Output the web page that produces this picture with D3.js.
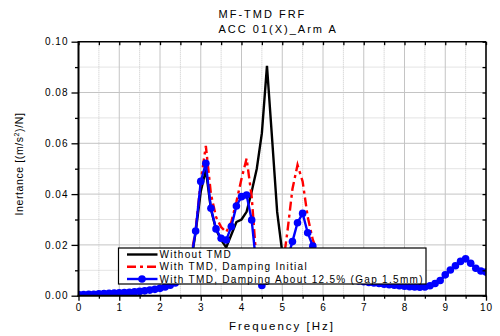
<!DOCTYPE html>
<html><head><meta charset="utf-8">
<script src="https://cdn.jsdelivr.net/npm/d3@7"></script>
<style>
body{margin:0;background:#fff;}
text{font-family:"Liberation Sans",Arial,sans-serif;}
</style></head>
<body><svg id="c" width="500" height="336"></svg>
<script>
const freq = [0,0.125,0.25,0.375,0.5,0.625,0.75,0.875,1,1.125,1.25,1.375,1.5,1.625,1.75,1.875,2,2.125,2.25,2.375,2.5,2.625,2.75,2.875,3,3.125,3.25,3.375,3.5,3.625,3.75,3.875,4,4.125,4.25,4.375,4.5,4.625,4.75,4.875,5,5.125,5.25,5.375,5.5,5.625,5.75,5.875,6,6.125,6.25,6.375,6.5,6.625,6.75,6.875,7,7.125,7.25,7.375,7.5,7.625,7.75,7.875,8,8.125,8.25,8.375,8.5,8.625,8.75,8.875,9,9.125,9.25,9.375,9.5,9.625,9.75,9.875,10];
const withoutTMD = [0.0005,0.0005,0.0006,0.0006,0.0007,0.0008,0.0009,0.0010,0.0011,0.0012,0.0013,0.0015,0.0017,0.0019,0.0022,0.0025,0.0029,0.0034,0.0041,0.0050,0.0062,0.0080,0.0120,0.0250,0.0410,0.0495,0.0340,0.0260,0.0220,0.0190,0.0240,0.0290,0.0300,0.0330,0.0410,0.0500,0.0640,0.0905,0.0620,0.0330,0.0170,0.0100,0.0080,0.0070,0.0065,0.0062,0.0060,0.0058,0.0056,0.0100,0.0090,0.0082,0.0075,0.0068,0.0062,0.0058,0.0055,0.0052,0.0050,0.0048,0.0045,0.0043,0.0041,0.0039,0.0037,0.0035,0.0034,0.0033,0.0034,0.0039,0.0048,0.0060,0.0082,0.0101,0.0118,0.0135,0.0145,0.0128,0.0108,0.0097,0.0093];
const dampInitial = [0.0005,0.0005,0.0006,0.0006,0.0007,0.0008,0.0009,0.0010,0.0011,0.0012,0.0013,0.0015,0.0017,0.0019,0.0022,0.0025,0.0029,0.0034,0.0041,0.0050,0.0062,0.0090,0.0140,0.0260,0.0450,0.0590,0.0400,0.0310,0.0270,0.0250,0.0290,0.0370,0.0460,0.0540,0.0390,0.0120,0.0050,0.0050,0.0060,0.0080,0.0100,0.0250,0.0420,0.0515,0.0450,0.0310,0.0220,0.0170,0.0130,0.0100,0.0090,0.0082,0.0075,0.0068,0.0062,0.0058,0.0055,0.0052,0.0050,0.0048,0.0045,0.0043,0.0041,0.0039,0.0037,0.0035,0.0034,0.0033,0.0034,0.0039,0.0048,0.0060,0.0082,0.0101,0.0118,0.0135,0.0145,0.0128,0.0108,0.0097,0.0093];
const dampAbout = [0.0005,0.0005,0.0006,0.0006,0.0007,0.0008,0.0009,0.0010,0.0011,0.0012,0.0013,0.0015,0.0017,0.0019,0.0022,0.0025,0.0029,0.0034,0.0041,0.0050,0.0062,0.0085,0.0130,0.0255,0.0450,0.0521,0.0344,0.0263,0.0226,0.0219,0.0272,0.0353,0.0390,0.0396,0.0298,0.0100,0.0040,0.0060,0.0080,0.0090,0.0100,0.0145,0.0213,0.0287,0.0324,0.0248,0.0195,0.0150,0.0120,0.0100,0.0090,0.0082,0.0075,0.0068,0.0062,0.0058,0.0055,0.0052,0.0050,0.0048,0.0045,0.0043,0.0041,0.0039,0.0037,0.0035,0.0034,0.0033,0.0034,0.0039,0.0048,0.0060,0.0082,0.0101,0.0118,0.0135,0.0145,0.0128,0.0108,0.0097,0.0093];
const xTicks = [0,1,2,3,4,5,6,7,8,9,10];
const xMinor = [0.5,1.5,2.5,3.5,4.5,5.5,6.5,7.5,8.5,9.5];
const yTicks = [0,0.02,0.04,0.06,0.08,0.10];
const yMinor = [0.01,0.03,0.05,0.07,0.09];
const titleLines = ["MF-TMD FRF","ACC 01(X)_Arm A"];
const seriesNames = ["Without TMD","With TMD, Damping Initial","With TMD, Damping About 12.5% (Gap 1.5mm)"];

const svg = d3.select("#c");
const L=78.5, R=486, T=41.7, B=295.7;
const x = d3.scaleLinear().domain([0,10]).range([L,R]);
const y = d3.scaleLinear().domain([0,0.1]).range([B,T]);

// grid
const g = svg.append("g");
g.selectAll(".gxm").data(xMinor).join("line").attr("x1",d=>x(d)).attr("x2",d=>x(d)).attr("y1",T).attr("y2",B)
 .attr("stroke","#c8c8c8").attr("stroke-width",1).attr("stroke-dasharray","1,1");
g.selectAll(".gym").data(yMinor).join("line").attr("y1",d=>y(d)).attr("y2",d=>y(d)).attr("x1",L).attr("x2",R)
 .attr("stroke","#c8c8c8").attr("stroke-width",1).attr("stroke-dasharray","1,1");
g.selectAll(".gx").data(xTicks.slice(1,-1)).join("line").attr("x1",d=>x(d)).attr("x2",d=>x(d)).attr("y1",T).attr("y2",B)
 .attr("stroke","#c4c4c4").attr("stroke-width",1);
g.selectAll(".gy").data(yTicks.slice(1,-1)).join("line").attr("y1",d=>y(d)).attr("y2",d=>y(d)).attr("x1",L).attr("x2",R)
 .attr("stroke","#c4c4c4").attr("stroke-width",1);

// data
const clip = svg.append("clipPath").attr("id","cp").append("rect").attr("x",L).attr("y",T).attr("width",R-L).attr("height",B-T);
const line = d3.line().x((d,i)=>x(freq[i])).y(d=>y(d));
const dg = svg.append("g").attr("clip-path","url(#cp)");
dg.append("path").attr("d",line(withoutTMD)).attr("fill","none").attr("stroke","#000").attr("stroke-width",2.4).attr("stroke-linejoin","miter");
dg.append("path").attr("d",line(dampInitial)).attr("fill","none").attr("stroke","#ff0000").attr("stroke-width",2.4).attr("stroke-dasharray","9,4,3,4");
dg.append("path").attr("d",line(dampAbout)).attr("fill","none").attr("stroke","#0000ff").attr("stroke-width",2.4);
dg.selectAll("circle").data(dampAbout).join("circle").attr("cx",(d,i)=>x(freq[i])).attr("cy",d=>y(d)).attr("r",3.8).attr("fill","#0000ff");

// axes
const fontTick = "10px";
const ax = svg.append("g");
const left = ax.append("g").attr("transform",`translate(${L},0)`).call(d3.axisLeft(y).tickValues(yTicks).tickSize(7).tickPadding(3).tickFormat(d3.format(".2f")));
ax.append("g").attr("transform",`translate(${L},0)`).call(d3.axisLeft(y).tickValues(yMinor).tickSize(3.5).tickFormat(""));
const bottom = ax.append("g").attr("transform",`translate(0,${B})`).call(d3.axisBottom(x).tickValues(xTicks).tickSize(5).tickPadding(3).tickFormat(d3.format("d")));
ax.append("g").attr("transform",`translate(0,${B})`).call(d3.axisBottom(x).tickValues(xMinor).tickSize(3).tickFormat(""));
ax.append("g").attr("transform",`translate(0,${T})`).call(d3.axisBottom(x).tickValues(xTicks.concat(xMinor)).tickSize(3.5).tickFormat(""));
ax.append("g").attr("transform",`translate(${R},0)`).call(d3.axisLeft(y).tickValues(yTicks.concat(yMinor)).tickSize(3.5).tickFormat(""));
ax.selectAll(".domain").remove();
ax.selectAll(".tick line").attr("stroke","#000").attr("stroke-width",1.3);
ax.selectAll("text").attr("font-size",fontTick).attr("fill","#000").attr("letter-spacing","1px").style("font-family","Liberation Sans, Arial, sans-serif");
// frame
svg.append("line").attr("x1",L).attr("x2",R).attr("y1",T).attr("y2",T).attr("stroke","#000").attr("stroke-width",1.6);
svg.append("line").attr("x1",R).attr("x2",R).attr("y1",T).attr("y2",B).attr("stroke","#000").attr("stroke-width",1.6);
svg.append("line").attr("x1",L).attr("x2",L).attr("y1",T-0.8).attr("y2",B+1).attr("stroke","#000").attr("stroke-width",2);
svg.append("line").attr("x1",L-1).attr("x2",R+0.8).attr("y1",B).attr("y2",B).attr("stroke","#000").attr("stroke-width",2);

// titles
svg.append("text").attr("x",218.5).attr("y",17.5).attr("text-anchor","start").attr("font-size","11px").attr("letter-spacing","2px").text(titleLines[0]);
svg.append("text").attr("x",218.5).attr("y",32.5).attr("text-anchor","start").attr("font-size","11px").attr("letter-spacing","2px").text(titleLines[1]);
svg.append("text").attr("x",282).attr("y",330).attr("text-anchor","middle").attr("font-size","11.5px").attr("letter-spacing","2px").text("Frequency [Hz]");
const yl = svg.append("text").attr("transform","translate(23,164) rotate(-90)").attr("text-anchor","middle").attr("font-size","10.5px").attr("letter-spacing","0.6px");
yl.append("tspan").text("Inertance [(m/s");
yl.append("tspan").attr("dy",-4).attr("font-size","7px").text("2");
yl.append("tspan").attr("dy",4).text(")/N]");

// legend
const lg = svg.append("g");
lg.append("rect").attr("x",118.5).attr("y",248).attr("width",307.5).attr("height",36).attr("fill","#fff").attr("stroke","#000").attr("stroke-width",1.2);
const rowsY = [254.5,266.7,279];
const styles = [{c:"#000",d:null},{c:"#ff0000",d:"9,4,3,4"},{c:"#0000ff",d:null}];
rowsY.forEach((ry,i)=>{
  const l = lg.append("line").attr("x1",127).attr("x2",157.5).attr("y1",ry).attr("y2",ry).attr("stroke",styles[i].c).attr("stroke-width",2.4);
  if(styles[i].d) l.attr("stroke-dasharray",styles[i].d);
  if(i===2) lg.append("circle").attr("cx",142).attr("cy",ry).attr("r",3.8).attr("fill","#0000ff");
  lg.append("text").attr("x",159.5).attr("y",ry+3.6).attr("font-size","10px").attr("letter-spacing","1.3px").text(seriesNames[i]);
});
</script></body></html>
